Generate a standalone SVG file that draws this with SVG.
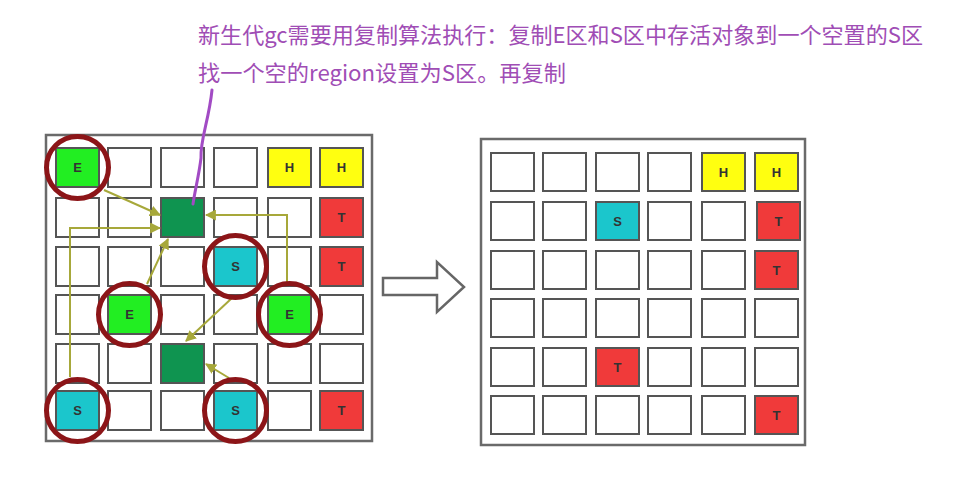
<svg xmlns="http://www.w3.org/2000/svg" width="974" height="488" viewBox="0 0 974 488">
<style>
.t{font-family:"Noto Sans CJK SC","Microsoft YaHei",sans-serif;font-size:22px;fill:#a04db5}
.frame{fill:#fff;stroke:#6a6a6a;stroke-width:2.5}
.c{stroke:#555;stroke-width:2}
.w{fill:#fff}
.E{fill:#22ee22}
.D{fill:#0f9450}
.S{fill:#1bc6cc}
.H{fill:#ffff10}
.T{fill:#f03a3a}
.lb{font-family:"Liberation Sans",Arial,sans-serif;font-size:13px;font-weight:bold;fill:#333;text-anchor:middle;dominant-baseline:central}
.ring{fill:none;stroke:#8c1518;stroke-width:5}
.ar{fill:none;stroke:#a7a83a;stroke-width:2}
</style>
<defs>
<marker id="ah" viewBox="0 0 10 10" refX="9" refY="5" markerWidth="5.5" markerHeight="5.5" orient="auto" markerUnits="strokeWidth">
<path d="M0,0 L10,5 L0,10 z" fill="#a7a83a"/>
</marker>
</defs>
<rect width="974" height="488" fill="#fff"/>
<g id="caption">
<text class="t" x="198" y="43" textLength="725" lengthAdjust="spacingAndGlyphs">新生代gc需要用复制算法执行：复制E区和S区中存活对象到一个空置的S区</text>
<text class="t" x="198" y="81" textLength="368" lengthAdjust="spacingAndGlyphs">找一个空的region设置为S区。再复制</text>
</g>
<g id="left-grid">
<rect class="frame" x="46" y="135" width="326" height="306"/>
<g id="L-r0">
<rect class="c E" x="56" y="148" width="43" height="39"/><text class="lb" x="77.5" y="167.5">E</text>
<rect class="c w" x="108" y="148" width="43" height="39"/>
<rect class="c w" x="161" y="148" width="43" height="39"/>
<rect class="c w" x="214" y="148" width="43" height="39"/>
<rect class="c H" x="268" y="148" width="43" height="39"/><text class="lb" x="289.5" y="167.5">H</text>
<rect class="c H" x="320" y="148" width="43" height="39"/><text class="lb" x="341.5" y="167.5">H</text>
</g>
<g id="L-r1">
<rect class="c w" x="56" y="198" width="43" height="39"/>
<rect class="c w" x="108" y="198" width="43" height="39"/>
<rect class="c D" x="161" y="198" width="43" height="39"/>
<rect class="c w" x="214" y="198" width="43" height="39"/>
<rect class="c w" x="268" y="198" width="43" height="39"/>
<rect class="c T" x="320" y="198" width="43" height="39"/><text class="lb" x="341.5" y="217.5">T</text>
</g>
<g id="L-r2">
<rect class="c w" x="56" y="247" width="43" height="39"/>
<rect class="c w" x="108" y="247" width="43" height="39"/>
<rect class="c w" x="161" y="247" width="43" height="39"/>
<rect class="c S" x="214" y="247" width="43" height="39"/><text class="lb" x="235.5" y="266.5">S</text>
<rect class="c w" x="268" y="247" width="43" height="39"/>
<rect class="c T" x="320" y="247" width="43" height="39"/><text class="lb" x="341.5" y="266.5">T</text>
</g>
<g id="L-r3">
<rect class="c w" x="56" y="295" width="43" height="39"/>
<rect class="c E" x="108" y="295" width="43" height="39"/><text class="lb" x="129.5" y="314.5">E</text>
<rect class="c w" x="161" y="295" width="43" height="39"/>
<rect class="c w" x="214" y="295" width="43" height="39"/>
<rect class="c E" x="268" y="295" width="43" height="39"/><text class="lb" x="289.5" y="314.5">E</text>
<rect class="c w" x="320" y="295" width="43" height="39"/>
</g>
<g id="L-r4">
<rect class="c w" x="56" y="344" width="43" height="39"/>
<rect class="c w" x="108" y="344" width="43" height="39"/>
<rect class="c D" x="161" y="344" width="43" height="39"/>
<rect class="c w" x="214" y="344" width="43" height="39"/>
<rect class="c w" x="268" y="344" width="43" height="39"/>
<rect class="c w" x="320" y="344" width="43" height="39"/>
</g>
<g id="L-r5">
<rect class="c S" x="56" y="391" width="43" height="39"/><text class="lb" x="77.5" y="410.5">S</text>
<rect class="c w" x="108" y="391" width="43" height="39"/>
<rect class="c w" x="161" y="391" width="43" height="39"/>
<rect class="c S" x="214" y="391" width="43" height="39"/><text class="lb" x="235.5" y="410.5">S</text>
<rect class="c w" x="268" y="391" width="43" height="39"/>
<rect class="c T" x="320" y="391" width="43" height="39"/><text class="lb" x="341.5" y="410.5">T</text>
</g>
</g>
<g id="connectors">
<line class="ar" x1="104" y1="190" x2="160" y2="215" marker-end="url(#ah)"/>
<polyline class="ar" points="70,377 70,228 160,228" marker-end="url(#ah)"/>
<line class="ar" x1="147" y1="284" x2="168" y2="239" marker-end="url(#ah)"/>
<polyline class="ar" points="287,283 287,215 206,215" marker-end="url(#ah)"/>
<line class="ar" x1="232" y1="298" x2="186" y2="341" marker-end="url(#ah)"/>
<line class="ar" x1="229" y1="378" x2="206" y2="364" marker-end="url(#ah)"/>
<path d="M212,90 C209,120 200,140 201,158 C199,175 195,190 193,204" fill="none" stroke="#a24bc4" stroke-width="3" stroke-linecap="round"/>
</g>
<g id="rings">
<circle class="ring" cx="77.5" cy="167.5" r="31"/>
<circle class="ring" cx="235.5" cy="266.5" r="31"/>
<circle class="ring" cx="129.5" cy="314.5" r="31"/>
<circle class="ring" cx="289.5" cy="314.5" r="31"/>
<circle class="ring" cx="77.5" cy="410.5" r="31"/>
<circle class="ring" cx="235.5" cy="410.5" r="31"/>
</g>
<g id="big-arrow">
<path d="M383,278 L437,278 L437,262 L464,287 L437,312 L437,295 L383,295 Z" fill="#fff" stroke="#666" stroke-width="2.5" stroke-linejoin="miter"/>
</g>
<g id="right-grid">
<rect class="frame" x="481" y="139" width="324" height="306"/>
<g id="R-r0">
<rect class="c w" x="491" y="153" width="43" height="38"/>
<rect class="c w" x="543" y="153" width="43" height="38"/>
<rect class="c w" x="596" y="153" width="43" height="38"/>
<rect class="c w" x="648" y="153" width="43" height="38"/>
<rect class="c H" x="702" y="153" width="43" height="38"/><text class="lb" x="723.5" y="172">H</text>
<rect class="c H" x="755" y="153" width="43" height="38"/><text class="lb" x="776.5" y="172">H</text>
</g>
<g id="R-r1">
<rect class="c w" x="491" y="202" width="43" height="38"/>
<rect class="c w" x="543" y="202" width="43" height="38"/>
<rect class="c S" x="596" y="202" width="43" height="38"/><text class="lb" x="617.5" y="221">S</text>
<rect class="c w" x="648" y="202" width="43" height="38"/>
<rect class="c w" x="702" y="202" width="43" height="38"/>
<rect class="c T" x="757" y="202" width="43" height="38"/><text class="lb" x="778.5" y="221">T</text>
</g>
<g id="R-r2">
<rect class="c w" x="491" y="251" width="43" height="38"/>
<rect class="c w" x="543" y="251" width="43" height="38"/>
<rect class="c w" x="596" y="251" width="43" height="38"/>
<rect class="c w" x="648" y="251" width="43" height="38"/>
<rect class="c w" x="702" y="251" width="43" height="38"/>
<rect class="c T" x="755" y="251" width="43" height="38"/><text class="lb" x="776.5" y="270">T</text>
</g>
<g id="R-r3">
<rect class="c w" x="491" y="299" width="43" height="38"/>
<rect class="c w" x="543" y="299" width="43" height="38"/>
<rect class="c w" x="596" y="299" width="43" height="38"/>
<rect class="c w" x="648" y="299" width="43" height="38"/>
<rect class="c w" x="702" y="299" width="43" height="38"/>
<rect class="c w" x="755" y="299" width="43" height="38"/>
</g>
<g id="R-r4">
<rect class="c w" x="491" y="348" width="43" height="38"/>
<rect class="c w" x="543" y="348" width="43" height="38"/>
<rect class="c T" x="596" y="348" width="43" height="38"/><text class="lb" x="617.5" y="367">T</text>
<rect class="c w" x="648" y="348" width="43" height="38"/>
<rect class="c w" x="702" y="348" width="43" height="38"/>
<rect class="c w" x="755" y="348" width="43" height="38"/>
</g>
<g id="R-r5">
<rect class="c w" x="491" y="396" width="43" height="38"/>
<rect class="c w" x="543" y="396" width="43" height="38"/>
<rect class="c w" x="596" y="396" width="43" height="38"/>
<rect class="c w" x="648" y="396" width="43" height="38"/>
<rect class="c w" x="702" y="396" width="43" height="38"/>
<rect class="c T" x="755" y="396" width="43" height="38"/><text class="lb" x="776.5" y="415">T</text>
</g>
</g>
</svg>
